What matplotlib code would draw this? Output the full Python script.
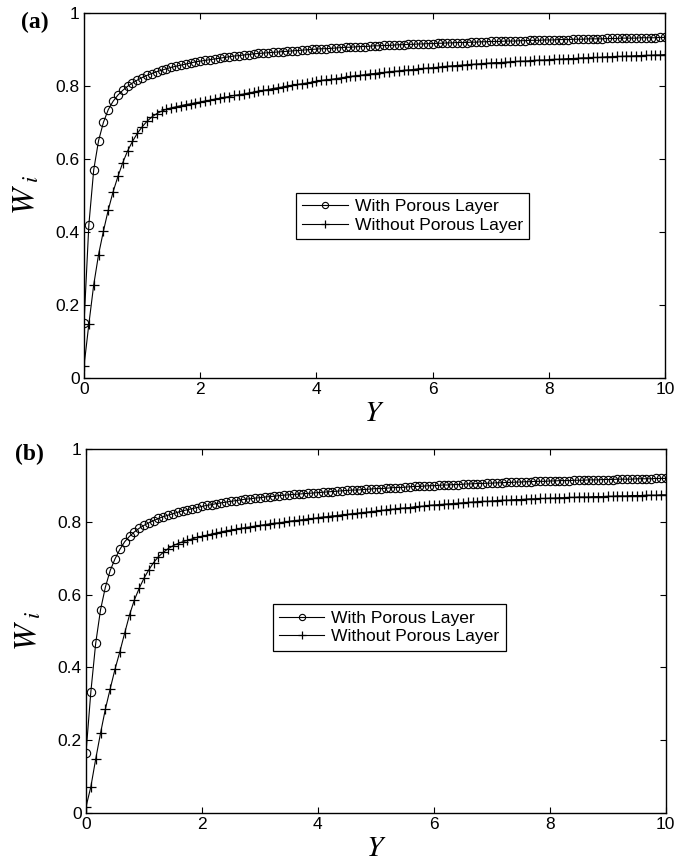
import numpy as np
import matplotlib
matplotlib.use("Agg")
import matplotlib.pyplot as plt

plt.rcParams["font.family"] = ["Liberation Sans", "DejaVu Sans"]
plt.rcParams["mathtext.fontset"] = "stix"

# Y grid of the velocity profiles (step 1/12)
Y = np.linspace(0, 10, 121)

# panel (a)
w_with_a = [
    0.150, 0.420, 0.570, 0.650, 0.700, 0.735, 0.758, 0.775, 0.788, 0.799, 0.808, 0.816,
    0.823, 0.829, 0.834, 0.839, 0.843, 0.847, 0.851, 0.854, 0.857, 0.860, 0.863, 0.866,
    0.868, 0.870, 0.872, 0.874, 0.876, 0.878, 0.880, 0.882, 0.883, 0.885, 0.886, 0.888,
    0.889, 0.890, 0.891, 0.892, 0.893, 0.894, 0.895, 0.896, 0.897, 0.898, 0.899, 0.900,
    0.901, 0.902, 0.902, 0.903, 0.904, 0.905, 0.906, 0.906, 0.907, 0.908, 0.908, 0.909,
    0.910, 0.910, 0.911, 0.911, 0.912, 0.913, 0.913, 0.914, 0.914, 0.915, 0.915, 0.916,
    0.916, 0.917, 0.917, 0.918, 0.918, 0.919, 0.919, 0.919, 0.920, 0.920, 0.921, 0.921,
    0.922, 0.922, 0.922, 0.923, 0.923, 0.923, 0.924, 0.924, 0.925, 0.925, 0.925, 0.926,
    0.926, 0.926, 0.927, 0.927, 0.927, 0.928, 0.928, 0.928, 0.929, 0.929, 0.929, 0.929,
    0.930, 0.930, 0.930, 0.931, 0.931, 0.931, 0.931, 0.932, 0.932, 0.932, 0.932, 0.933,
    0.933,
]
w_without_a = [
    0.033, 0.148, 0.255, 0.338, 0.402, 0.460, 0.510, 0.552, 0.590, 0.622, 0.648, 0.670,
    0.688, 0.703, 0.715, 0.724, 0.731, 0.736, 0.740, 0.743, 0.746, 0.749, 0.751, 0.754,
    0.756, 0.759, 0.761, 0.764, 0.766, 0.769, 0.771, 0.774, 0.776, 0.778, 0.781, 0.783,
    0.786, 0.788, 0.790, 0.793, 0.795, 0.797, 0.800, 0.802, 0.804, 0.806, 0.808, 0.810,
    0.813, 0.815, 0.817, 0.818, 0.820, 0.822, 0.824, 0.826, 0.828, 0.829, 0.831, 0.833,
    0.834, 0.836, 0.837, 0.839, 0.840, 0.841, 0.843, 0.844, 0.845, 0.847, 0.848, 0.849,
    0.850, 0.851, 0.853, 0.854, 0.855, 0.856, 0.857, 0.858, 0.859, 0.860, 0.861, 0.862,
    0.863, 0.864, 0.864, 0.865, 0.866, 0.867, 0.868, 0.868, 0.869, 0.870, 0.871, 0.871,
    0.872, 0.873, 0.873, 0.874, 0.875, 0.875, 0.876, 0.877, 0.877, 0.878, 0.878, 0.879,
    0.880, 0.880, 0.881, 0.881, 0.882, 0.882, 0.883, 0.883, 0.884, 0.884, 0.885, 0.885,
    0.886,
]

# panel (b)
w_with_b = [
    0.166, 0.333, 0.466, 0.558, 0.620, 0.666, 0.698, 0.724, 0.745, 0.760, 0.772, 0.782,
    0.790, 0.797, 0.803, 0.809, 0.814, 0.818, 0.822, 0.826, 0.830, 0.833, 0.836, 0.839,
    0.842, 0.845, 0.847, 0.850, 0.852, 0.854, 0.856, 0.858, 0.860, 0.862, 0.863, 0.865,
    0.866, 0.868, 0.869, 0.870, 0.872, 0.873, 0.874, 0.875, 0.876, 0.877, 0.878, 0.879,
    0.880, 0.881, 0.882, 0.883, 0.884, 0.885, 0.886, 0.887, 0.887, 0.888, 0.889, 0.890,
    0.891, 0.891, 0.892, 0.893, 0.894, 0.894, 0.895, 0.896, 0.897, 0.897, 0.898, 0.899,
    0.899, 0.900, 0.901, 0.901, 0.902, 0.902, 0.903, 0.904, 0.904, 0.905, 0.905, 0.906,
    0.906, 0.907, 0.907, 0.908, 0.908, 0.909, 0.909, 0.910, 0.910, 0.911, 0.911, 0.911,
    0.912, 0.912, 0.913, 0.913, 0.913, 0.914, 0.914, 0.914, 0.915, 0.915, 0.915, 0.916,
    0.916, 0.916, 0.917, 0.917, 0.917, 0.917, 0.918, 0.918, 0.918, 0.918, 0.919, 0.919,
    0.919,
]
w_without_b = [
    0.017, 0.072, 0.148, 0.219, 0.285, 0.341, 0.395, 0.443, 0.494, 0.544, 0.585, 0.617,
    0.645, 0.668, 0.688, 0.704, 0.716, 0.726, 0.734, 0.740, 0.745, 0.749, 0.753, 0.757,
    0.760, 0.763, 0.766, 0.769, 0.772, 0.775, 0.777, 0.779, 0.782, 0.784, 0.786, 0.788,
    0.790, 0.792, 0.794, 0.796, 0.797, 0.799, 0.801, 0.803, 0.804, 0.806, 0.808, 0.809,
    0.811, 0.813, 0.814, 0.816, 0.817, 0.819, 0.820, 0.822, 0.823, 0.825, 0.826, 0.828,
    0.829, 0.831, 0.832, 0.834, 0.835, 0.837, 0.838, 0.839, 0.841, 0.842, 0.843, 0.845,
    0.846, 0.847, 0.848, 0.849, 0.850, 0.851, 0.852, 0.853, 0.854, 0.855, 0.856, 0.856,
    0.857, 0.858, 0.859, 0.859, 0.860, 0.861, 0.861, 0.862, 0.863, 0.863, 0.864, 0.864,
    0.865, 0.865, 0.866, 0.866, 0.867, 0.867, 0.868, 0.868, 0.868, 0.869, 0.869, 0.869,
    0.870, 0.870, 0.871, 0.871, 0.871, 0.872, 0.872, 0.872, 0.873, 0.873, 0.873, 0.874,
    0.874,
]

x_ticks = [0, 2, 4, 6, 8, 10]
y_ticks = [0, 0.2, 0.4, 0.6, 0.8, 1]
y_tick_labels = ["0", "0.2", "0.4", "0.6", "0.8", "1"]


def draw_panel(ax, w_with, w_without, legend_pos):
    ax.plot(Y, w_with, color="black", lw=0.8, marker="o", ms=6.0,
            mfc="none", mec="black", mew=0.8, label="With Porous Layer")
    ax.plot(Y, w_without, color="black", lw=0.8, marker="+", ms=7,
            mec="black", mew=0.9, label="Without Porous Layer")
    ax.set_xlim(0, 10)
    ax.set_ylim(0, 1)
    ax.set_xticks(x_ticks)
    ax.set_xticklabels([str(t) for t in x_ticks])
    ax.set_yticks(y_ticks)
    ax.set_yticklabels(y_tick_labels)
    ax.tick_params(direction="in", length=4, width=0.8, top=True, right=True,
                   labelsize=12.5, pad=3)
    for s in ax.spines.values():
        s.set_linewidth(1.0)
    ax.set_ylabel(r"$W_{\ i}$", fontsize=23, labelpad=10)
    ax.set_xlabel(r"$Y$", fontsize=21, labelpad=1)
    leg = ax.legend(loc="upper left", bbox_to_anchor=legend_pos, borderaxespad=0,
                    fancybox=False, framealpha=1, edgecolor="black", fontsize=12.6,
                    handlelength=2.6, handletextpad=0.4, borderpad=0.35,
                    labelspacing=0.2, markerscale=0.75)
    leg.get_frame().set_linewidth(0.9)


fig = plt.figure(figsize=(6.91, 8.63), dpi=100)
ax_a = fig.add_axes([0.1216, 0.562, 0.841, 0.423])
ax_b = fig.add_axes([0.1245, 0.058, 0.839, 0.4218])

draw_panel(ax_a, w_with_a, w_without_a, (0.365, 0.508))
draw_panel(ax_b, w_with_b, w_without_b, (0.322, 0.573))

fig.text(0.031, 0.9745, "(a)", fontsize=17, fontweight="bold",
         family=["Liberation Serif"], ha="left", va="center")
fig.text(0.022, 0.473, "(b)", fontsize=17, fontweight="bold",
         family=["Liberation Serif"], ha="left", va="center")

fig.savefig("out.png", dpi=100)
